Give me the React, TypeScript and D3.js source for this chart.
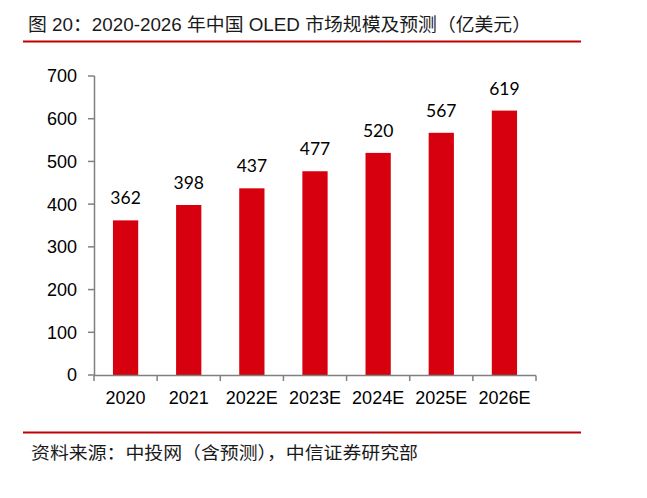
import React from "react";
import * as d3 from "d3";

const YEARS = ["2020", "2021", "2022E", "2023E", "2024E", "2025E", "2026E"];
const MARKET = [362, 398, 437, 477, 520, 567, 619];
const Y_TICKS = [0, 100, 200, 300, 400, 500, 600, 700];

const TITLE = "图 20：2020-2026 年中国 OLED 市场规模及预测（亿美元）";
const SOURCE = "资料来源：中投网（含预测），中信证券研究部";

const W = 647;
const H = 498;
const FONT = "'Liberation Sans', Arial, 'Noto Sans CJK SC', sans-serif";
const CJK = "'Liberation Sans', 'Noto Sans CJK SC', sans-serif";
const VAL = "Lato, 'Open Sans', sans-serif";

export default function App() {
  const x = d3.scaleBand().domain(YEARS).range([94, 536]).paddingInner(0.6).paddingOuter(0.3);
  const xb = d3.scaleBand().domain(YEARS).range([94, 536]);
  const y = d3.scaleLinear().domain([0, 700]).range([375, 76]);

  return (
    <svg
      width={W}
      height={H}
      style={{ position: "fixed", left: 0, top: 0, background: "#fff" }}
    >
      {/* title */}
      <text
        x={28}
        y={31}
        fontSize={18}
        fill="#1a1a1a"
        textLength={503}
        lengthAdjust="spacingAndGlyphs"
        style={{ fontFamily: CJK }}
      >
        {TITLE}
      </text>
      <line x1={23} x2={581} y1={41.5} y2={41.5} stroke="#c00000" strokeWidth={2} />

      {/* y axis */}
      <line x1={94.5} x2={94.5} y1={y(700)} y2={y(0)} stroke="#808080" strokeWidth={1.5} />
      {Y_TICKS.map((t) => (
        <g key={t}>
          <line x1={88} x2={94.5} y1={y(t)} y2={y(t)} stroke="#808080" strokeWidth={1.5} />
          <text
            x={77}
            y={y(t)}
            dy="0.36em"
            textAnchor="end"
            fontSize={18}
            fill="#000"
            style={{ fontFamily: FONT }}
          >
            {t}
          </text>
        </g>
      ))}

      {/* bars */}
      {YEARS.map((c, i) => (
        <g key={c}>
          <rect
            x={x(c)}
            y={y(MARKET[i])}
            width={x.bandwidth()}
            height={y(0) - y(MARKET[i])}
            fill="#d7000f"
          />
          <text
            x={(x(c) || 0) + x.bandwidth() / 2}
            y={y(MARKET[i]) - 16}
            textAnchor="middle"
            fontSize={17.5}
            fill="#000"
            style={{ fontFamily: VAL }}
          >
            {MARKET[i]}
          </text>
        </g>
      ))}

      {/* x axis */}
      <line x1={94} x2={536} y1={375.5} y2={375.5} stroke="#808080" strokeWidth={1.5} />
      {YEARS.concat([""]).map((c, i) => {
        const px = 94 + i * xb.bandwidth();
        return <line key={"t" + i} x1={px} x2={px} y1={375.5} y2={381} stroke="#808080" strokeWidth={1.5} />;
      })}
      {YEARS.map((c) => (
        <text
          key={"l" + c}
          x={(xb(c) || 0) + xb.bandwidth() / 2}
          y={404}
          textAnchor="middle"
          fontSize={18}
          fill="#000"
          style={{ fontFamily: FONT }}
        >
          {c}
        </text>
      ))}

      {/* footer */}
      <line x1={23} x2={581} y1={432.5} y2={432.5} stroke="#c00000" strokeWidth={2} />
      <text
        x={31}
        y={459}
        fontSize={17.5}
        fill="#1a1a1a"
        textLength={387}
        lengthAdjust="spacingAndGlyphs"
        style={{ fontFamily: CJK }}
      >
        {SOURCE}
      </text>
    </svg>
  );
}
